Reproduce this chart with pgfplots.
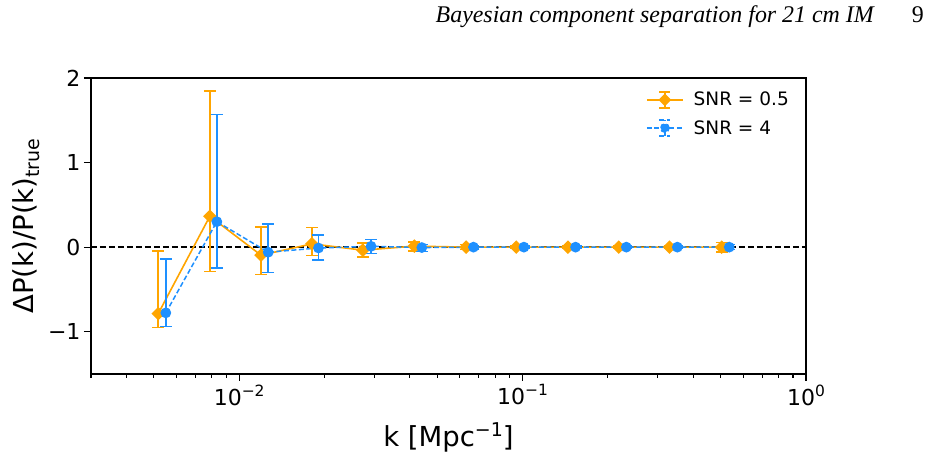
\documentclass[border=0pt]{standalone}
\usepackage{pgfplots}
\pgfplotsset{compat=1.18}
\usepackage{pgfplotstable}
\usepackage{fontspec}
\setmainfont{DejaVu Sans}
\newfontfamily\headfont{Liberation Serif}
\definecolor{mporange}{HTML}{FFA500}
\definecolor{mpblue}{HTML}{1E90FF}
\newcommand{\tenpow}[1]{10\raisebox{9pt}{\fontsize{15.5}{16}\selectfont #1}}

\pgfplotstableread{
x y ep em
0.00518 -0.786 0.738 0.166
0.00788 0.365 1.484 0.651
0.01194 -0.095 0.333 0.230
0.01806 0.039 0.191 0.138
0.0273 -0.036 0.087 0.083
0.0415 0.012 0.051 0.060
0.0632 0.0 0.03 0.03
0.0950 0.0 0.015 0.015
0.1445 0.0 0.015 0.015
0.2185 0.0 0.015 0.015
0.330 0.0 0.015 0.015
0.504 0.0 0.055 0.055
}\snrlow

\pgfplotstableread{
x y ep em
0.00551 -0.777 0.634 0.163
0.00834 0.301 1.267 0.547
0.01266 -0.060 0.337 0.238
0.01905 -0.010 0.156 0.141
0.0292 0.010 0.082 0.085
0.0441 -0.005 0.035 0.045
0.0671 0.0 0.02 0.02
0.1011 0.0 0.01 0.01
0.1538 0.0 0.01 0.01
0.2323 0.0 0.01 0.01
0.3516 0.0 0.01 0.01
0.536 0.0 0.03 0.03
}\snrhigh

\begin{document}
\begin{tikzpicture}
\useasboundingbox (0pt,0pt) rectangle (929pt,458pt);
\node[anchor=base east, inner sep=0pt, font=\headfont\fontsize{23.9}{27}\selectfont\itshape] at (874pt,435pt) {Bayesian component separation for 21 cm IM};
\node[anchor=base east, inner sep=0pt, font=\headfont\fontsize{23.9}{27}\selectfont] at (924pt,435pt) {9};
\begin{axis}[
  at={(91pt,84pt)}, anchor=south west,
  scale only axis, width=715pt, height=296pt,
  xmode=log, xmin=0.003, xmax=1, ymin=-1.5, ymax=2,
  xtick={0.01,0.1,1},
  xticklabels={\tenpow{−2},\tenpow{−1},\tenpow{0}},
  minor xtick={0.003,0.004,0.005,0.006,0.007,0.008,0.009,0.02,0.03,0.04,0.05,0.06,0.07,0.08,0.09,0.2,0.3,0.4,0.5,0.6,0.7,0.8,0.9},
  ytick={-1,0,1,2}, yticklabels={−1,0,1,2},
  tick align=outside, xtick pos=bottom, ytick pos=left,
  major tick length=7pt, minor tick length=4pt,
  every tick/.style={black, line width=1.1pt},
  axis line style={line width=1.1pt},
  ticklabel style={font=\fontsize{22}{26}\selectfont},
  xlabel={k [Mpc\raisebox{10pt}{\fontsize{19}{20}\selectfont −1}]},
  ylabel={ΔP(k)/P(k)\raisebox{-6pt}{\fontsize{19}{20}\selectfont true}},
  label style={font=\fontsize{27.5}{32}\selectfont},
  xlabel style={at={(axis description cs:0.5,-0.2466)}, anchor=base},
  ylabel style={at={(axis description cs:-0.0811,0.5)}, anchor=base},
  legend style={draw=none, fill=none, at={(1,1)}, anchor=north east, xshift=-12pt, yshift=-10pt,
    font=\fontsize{18.5}{22}\selectfont, row sep=9pt},
  legend cell align=left,
]
\addplot[black, line width=1.3pt, dash pattern=on 6pt off 3pt, forget plot] coordinates {(0.003,0) (1,0)};

\addplot[mporange, line width=1.6pt, mark=square*, mark size=4pt, mark options={rotate=45, solid},
  legend image code/.code={
    \draw[mporange, line width=1.6pt] (0pt,0pt) -- (36pt,0pt);
    \draw[mporange, line width=1.5pt] (18pt,-8pt) -- (18pt,8pt) (12.5pt,-8pt) -- (23.5pt,-8pt) (12.5pt,8pt) -- (23.5pt,8pt);
    \fill[mporange, rotate around={45:(18pt,0pt)}] (14.3pt,-3.7pt) rectangle (21.7pt,3.7pt);
    \path (44pt,0pt);
  },
  error bars/.cd, y dir=both, y explicit,
  error bar style={line width=1.6pt, solid},
  error mark options={line width=1.6pt, mark size=6pt, rotate=90, solid}]
  table[x=x, y=y, y error plus=ep, y error minus=em] {\snrlow};
\addlegendentry{SNR = 0.5}

\addplot[mpblue, line width=1.5pt, dash pattern=on 5pt off 2.5pt, mark=*, mark size=4.6pt, mark options={solid},
  legend image code/.code={
    \draw[mpblue, line width=1.5pt, dash pattern=on 5pt off 2.5pt] (0pt,0pt) -- (36pt,0pt);
    \draw[mpblue, line width=1.5pt] (18pt,-8pt) -- (18pt,8pt) (12.5pt,-8pt) -- (23.5pt,-8pt) (12.5pt,8pt) -- (23.5pt,8pt);
    \fill[mpblue] (18pt,0pt) circle (4.2pt);
    \path (44pt,0pt);
  },
  error bars/.cd, y dir=both, y explicit,
  error bar style={line width=1.6pt, solid},
  error mark options={line width=1.6pt, mark size=6pt, rotate=90, solid}]
  table[x=x, y=y, y error plus=ep, y error minus=em] {\snrhigh};
\addlegendentry{SNR = 4}
\end{axis}
\end{tikzpicture}
\end{document}
